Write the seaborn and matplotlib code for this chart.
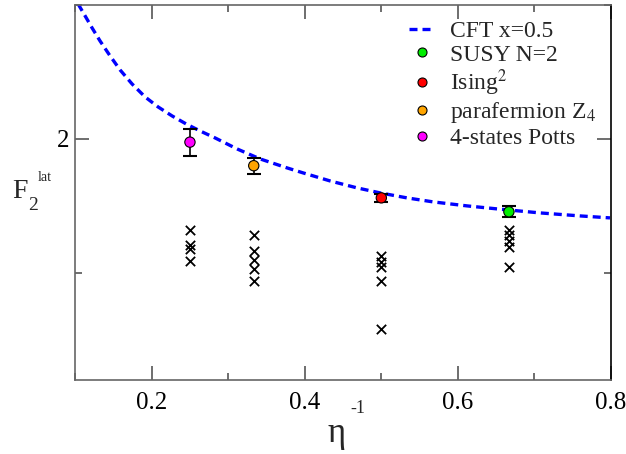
import numpy as np
import pandas as pd
import seaborn as sns
import matplotlib.pyplot as plt
from matplotlib.lines import Line2D
from matplotlib.ticker import MultipleLocator

# CFT x=0.5 curve
cft_x = [0.1039, 0.1131, 0.1222, 0.1326, 0.1457, 0.1588, 0.1744, 0.1914, 0.2084,
         0.2267, 0.2450, 0.2632, 0.2828, 0.3116, 0.3416, 0.3769, 0.3978, 0.4330,
         0.4683, 0.4983, 0.5336, 0.5675, 0.6119, 0.6511, 0.7073, 0.7595, 0.7987]
cft_y = [2.2519, 2.2295, 2.2071, 2.1828, 2.1549, 2.1287, 2.1026, 2.0784, 2.0597,
         2.0429, 2.0280, 2.0149, 2.0019, 1.9813, 1.9627, 1.9459, 1.9366, 1.9216,
         1.9086, 1.8993, 1.8899, 1.8825, 1.8750, 1.8694, 1.8619, 1.8563, 1.8526]

# extrapolated points with error bars
models = ['SUSY N=2', 'Ising$^{2}$', 'parafermion Z$_{4}$', '4-states Potts']
model_x = [2 / 3, 0.5, 1 / 3, 0.25]
model_y = [1.864, 1.890, 1.950, 1.994]
model_err = [0.010, 0.007, 0.015, 0.025]
model_colors = ['#00ee00', '#ff0000', '#ffa500', '#ff00ff']

# finite-size lattice values (crosses)
cross_x = [0.25] * 4 + [1 / 3] * 5 + [0.5] * 5 + [2 / 3] * 5
cross_y = [1.830, 1.802, 1.794, 1.772,
           1.821, 1.791, 1.774, 1.757, 1.734,
           1.782, 1.771, 1.761, 1.734, 1.645,
           1.830, 1.821, 1.810, 1.799, 1.761]

sns.set_style("ticks")
plt.rcParams['font.family'] = ['Liberation Serif', 'DejaVu Serif']
plt.rcParams['mathtext.fontset'] = 'stix'

fig = plt.figure(figsize=(6.26, 4.54), dpi=100)
ax = fig.add_axes([0.120, 0.163, 0.856, 0.826])

cft = pd.DataFrame({'x': cft_x, 'y': cft_y})
sns.lineplot(data=cft, x='x', y='y', ax=ax, color='#0000ff', lw=2.4, zorder=2)
ax.lines[-1].set_dashes([2.4, 1.5])

crosses = pd.DataFrame({'x': cross_x, 'y': cross_y})
sns.scatterplot(data=crosses, x='x', y='y', ax=ax, marker='x', color='black',
                s=45, linewidth=1.3, zorder=3)

ax.errorbar(model_x, model_y, yerr=model_err, fmt='none', ecolor='black',
            elinewidth=1.2, capsize=5, capthick=1.5, zorder=4)
pts = pd.DataFrame({'x': model_x, 'y': model_y, 'model': models})
sns.scatterplot(data=pts, x='x', y='y', hue='model', palette=model_colors,
                ax=ax, s=55, edgecolor='black', linewidth=0.8, legend=False,
                zorder=5)

ax.set_xlim(0.1, 0.8)
ax.set_ylim(1.55, 2.25)
ax.xaxis.set_major_locator(MultipleLocator(0.2))
ax.xaxis.set_minor_locator(MultipleLocator(0.1))
ax.yaxis.set_major_locator(MultipleLocator(0.5))
ax.yaxis.set_minor_locator(MultipleLocator(0.25))
ax.tick_params(which='both', direction='in', top=True, right=True,
               colors='#555555', labelcolor='black', labelsize=18)
ax.tick_params(axis='x', pad=9)
ax.tick_params(axis='y', pad=4)
ax.tick_params(which='major', length=10, width=1.2)
ax.tick_params(which='minor', length=5, width=1.2)
ax.set_yticks([2.0])
ax.set_yticklabels(['2'])
ax.set_xticks([0.2, 0.4, 0.6, 0.8])
ax.set_xticklabels(['0.2', '0.4', '0.6', '0.8'])
for side in ['left', 'top', 'bottom']:
    ax.spines[side].set_color('#666666')
    ax.spines[side].set_linewidth(1.2)
ax.spines['right'].set_color('black')
ax.spines['right'].set_linewidth(1.2)
ax.set_xlabel('')
ax.set_ylabel('')

# axis labels built from pieces: F_2^lat and eta^-1
fig.text(12 / 626, 1 - 198 / 454, 'F', fontsize=20, va='baseline')
fig.text(28 / 626, 1 - 210 / 454, '2', fontsize=14, va='baseline')
fig.text(38 / 626, 1 - 181 / 454, 'lat', fontsize=10, va='baseline')
fig.text(327 / 626, 1 - 442 / 454, 'η', fontsize=25, va='baseline')
fig.text(350 / 626, 1 - 413 / 454, '-1', fontsize=13, va='baseline')

handles = [Line2D([], [], color='#0000ff', lw=2.4, dashes=[2.4, 1.5])]
for c in model_colors:
    handles.append(Line2D([], [], ls='none', marker='o', markersize=6.5,
                          markerfacecolor=c, markeredgecolor='black',
                          markeredgewidth=0.8))
ax.legend(handles, ['CFT x=0.5'] + models, loc='upper right',
          bbox_to_anchor=(1.0, 1.0), frameon=False, fontsize=17,
          handlelength=1.1, handletextpad=0.6, labelspacing=0.09,
          borderaxespad=0.25)

fig.savefig('out.png', dpi=100)
